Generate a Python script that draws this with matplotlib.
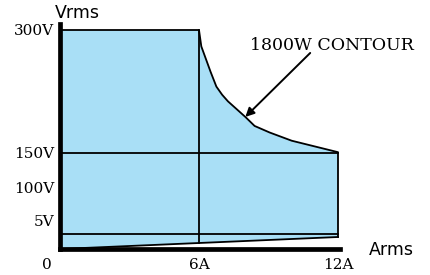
import numpy as np
import matplotlib
matplotlib.use("Agg")
import matplotlib.pyplot as plt
from matplotlib.transforms import ScaledTranslation

# ---- data ----
contour_amps = [6.0, 6.1, 6.5, 6.75, 7.0, 7.25, 8.0, 8.4, 9.05, 10.0, 12.0]
contour_volts = [300, 280, 249, 231, 221, 213, 194, 183, 175, 165, 151]
max_volts = 300
max_amps = 12
mid_amps = 6
range_volts = 150
low_volts = 5
diag_end_volts = 4.0
y_ticks = [5, 100, 150, 300]
y_tick_labels = ["5V", "100V", "150V", "300V"]
x_ticks = [0, 6, 12]
x_tick_labels = ["0", "6A", "12A"]
annot_text = "1800W CONTOUR"
annot_point = (8.0, 194)

# ---- schematic (non-linear) voltage scale ----
scale_v = [0, 5, 100, 150, 300, 400]
scale_p = [0, 15, 61.5, 96, 219, 301]


def fwd(v):
    return np.interp(v, scale_v, scale_p)


def inv(p):
    return np.interp(p, scale_p, scale_v)


W, H = 430, 275
fig = plt.figure(figsize=(W / 100, H / 100), dpi=100)
ax = fig.add_axes([60 / W, (H - 249) / H, 280 / W, 225 / H])
ax.set_yscale("function", functions=(fwd, inv))
ax.set_xlim(0, max_amps * 280 / 278)
ax.set_ylim(0, inv(225))

fill_c = "#a9dff6"
lw = 1.3

# filled region
px = [0, 0, mid_amps] + contour_amps + [max_amps, 0]
py = [0, max_volts, max_volts] + contour_volts + [diag_end_volts, 0]
ax.fill(px, py, color=fill_c, lw=0, zorder=1)

# outline
ax.plot([0, mid_amps] + contour_amps + [max_amps],
        [max_volts, max_volts] + contour_volts + [diag_end_volts],
        color="black", lw=lw, zorder=3)
ax.plot([0, max_amps], [0, diag_end_volts], color="black", lw=lw, zorder=3)
ax.plot([0, max_amps], [range_volts, range_volts], color="black", lw=lw, zorder=3)
ax.plot([0, max_amps], [low_volts, low_volts], color="black", lw=lw, zorder=3)
ax.plot([mid_amps, mid_amps],
        [max_volts, diag_end_volts * mid_amps / max_amps],
        color="black", lw=lw, zorder=3)

# spines
for s in ["top", "right"]:
    ax.spines[s].set_visible(False)
for s in ["left", "bottom"]:
    ax.spines[s].set_linewidth(3.4)
    ax.spines[s].set_capstyle("projecting")
    ax.spines[s].set_zorder(4)

serif = "DejaVu Serif"
ax.set_yticks(y_ticks)
ax.set_yticklabels(y_tick_labels, fontfamily=serif, fontsize=11)
ax.set_xticks(x_ticks)
ax.set_xticklabels(x_tick_labels, fontfamily=serif, fontsize=11)
ax.tick_params(axis="both", length=0)
ax.tick_params(axis="y", pad=4)
ax.tick_params(axis="x", pad=6.5)

# offset the 5V and 0 labels like the reference
yt = ax.yaxis.get_major_ticks()[0].label1
yt.set_transform(yt.get_transform() + ScaledTranslation(0, 13 / 100, fig.dpi_scale_trans))
xt = ax.xaxis.get_major_ticks()[0].label1
xt.set_transform(xt.get_transform() + ScaledTranslation(-13 / 100, 0, fig.dpi_scale_trans))

# annotation
ax.annotate("", xy=annot_point, xytext=(10.8, 272),
            arrowprops=dict(arrowstyle="-|>", color="black", lw=1.4,
                            mutation_scale=13, shrinkA=0, shrinkB=0),
            zorder=5, annotation_clip=False)
ax.text(11.75, 281, annot_text, ha="center", va="center",
        fontfamily=serif, fontsize=12.5, clip_on=False)

fig.text(77.5 / W, 1 - 12.5 / H, "Vrms", ha="center", va="center",
         fontfamily="DejaVu Sans", fontsize=12.5)
fig.text(391 / W, 1 - 250 / H, "Arms", ha="center", va="center",
         fontfamily="DejaVu Sans", fontsize=12.5)

fig.savefig("out.png", dpi=100)
